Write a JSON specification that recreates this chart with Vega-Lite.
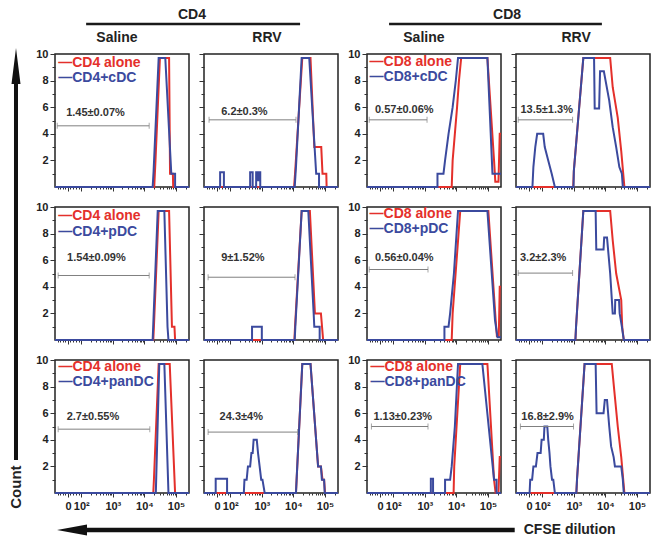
{
"$schema":"https://vega.github.io/schema/vega-lite/v6.json",
"padding":0,
"background":"white",
"config":{"font":"Liberation Sans","view":{"stroke":"#222","strokeWidth":1.5},"axis":{"grid":false,"domain":false,"tickColor":"#333","labelColor":"#222","labelFont":"Liberation Sans","labelFontWeight":"bold"}},
"datasets":{
"h11a":[{"x":1.17,"y":0},{"x":4.31,"y":0},{"x":4.35,"y":2},{"x":4.49,"y":9.7},{"x":4.78,"y":9.7},{"x":4.81,"y":1},{"x":4.90,"y":1},{"x":4.91,"y":0},{"x":5.41,"y":0}],
"h11b":[{"x":1.17,"y":0},{"x":4.26,"y":0},{"x":4.29,"y":1.2},{"x":4.45,"y":9.7},{"x":4.66,"y":9.7},{"x":4.85,"y":1},{"x":4.97,"y":1},{"x":4.97,"y":0},{"x":5.41,"y":0}],
"h12a":[{"x":1.17,"y":0},{"x":4.02,"y":0},{"x":4.05,"y":1},{"x":4.28,"y":9.7},{"x":4.54,"y":9.7},{"x":4.66,"y":3},{"x":4.88,"y":3},{"x":4.92,"y":1},{"x":5.04,"y":1},{"x":5.05,"y":0},{"x":5.41,"y":0}],
"h12b":[{"x":1.17,"y":0},{"x":1.68,"y":0},{"x":1.68,"y":1.1},{"x":1.80,"y":1.1},{"x":1.80,"y":0},{"x":2.63,"y":0},{"x":2.63,"y":1.1},{"x":2.71,"y":1.1},{"x":2.71,"y":0},{"x":2.82,"y":0},{"x":2.82,"y":1.1},{"x":2.87,"y":1.1},{"x":2.87,"y":0.5},{"x":2.89,"y":0.5},{"x":2.89,"y":1.1},{"x":2.95,"y":1.1},{"x":2.95,"y":0},{"x":4.04,"y":0},{"x":4.08,"y":1.5},{"x":4.26,"y":9.7},{"x":4.50,"y":9.7},{"x":4.72,"y":1},{"x":4.81,"y":1},{"x":4.81,"y":0},{"x":5.41,"y":0}],
"h13a":[{"x":1.17,"y":0},{"x":3.85,"y":0},{"x":3.88,"y":2},{"x":3.95,"y":4},{"x":4.02,"y":6},{"x":4.08,"y":8},{"x":4.15,"y":9.7},{"x":4.98,"y":9.7},{"x":5.19,"y":2},{"x":5.23,"y":0.4},{"x":5.33,"y":0.4},{"x":5.37,"y":4},{"x":5.41,"y":4}],
"h13b":[{"x":1.17,"y":0},{"x":3.40,"y":0},{"x":3.40,"y":1},{"x":3.59,"y":1},{"x":3.64,"y":2},{"x":3.75,"y":4},{"x":3.88,"y":6},{"x":3.98,"y":8},{"x":4.05,"y":9.7},{"x":4.98,"y":9.7},{"x":5.14,"y":1},{"x":5.41,"y":1}],
"h14a":[{"x":1.17,"y":0},{"x":2.98,"y":0},{"x":3.00,"y":1.2},{"x":3.30,"y":9.7},{"x":4.15,"y":9.7},{"x":4.23,"y":7.5},{"x":4.39,"y":5.2},{"x":4.50,"y":2.7},{"x":4.60,"y":0},{"x":5.41,"y":0}],
"h14b":[{"x":1.17,"y":0},{"x":1.69,"y":0},{"x":1.72,"y":1.5},{"x":1.78,"y":3},{"x":1.84,"y":4},{"x":2.03,"y":4},{"x":2.08,"y":3},{"x":2.19,"y":2},{"x":2.30,"y":1},{"x":2.40,"y":0},{"x":2.99,"y":0},{"x":3.00,"y":1.2},{"x":3.30,"y":9.7},{"x":3.64,"y":9.7},{"x":3.66,"y":5.9},{"x":3.80,"y":5.9},{"x":3.83,"y":8.7},{"x":3.95,"y":8.7},{"x":4.12,"y":6.5},{"x":4.23,"y":4.5},{"x":4.34,"y":3},{"x":4.44,"y":1.5},{"x":4.52,"y":1},{"x":4.55,"y":0},{"x":5.41,"y":0}],
"h21a":[{"x":1.17,"y":0},{"x":4.28,"y":0},{"x":4.30,"y":1},{"x":4.45,"y":9.7},{"x":4.78,"y":9.7},{"x":4.87,"y":1},{"x":4.95,"y":1},{"x":4.97,"y":0},{"x":5.41,"y":0}],
"h21b":[{"x":1.17,"y":0},{"x":4.26,"y":0},{"x":4.28,"y":1.2},{"x":4.42,"y":9.7},{"x":4.63,"y":9.7},{"x":4.73,"y":1},{"x":4.76,"y":0},{"x":5.41,"y":0}],
"h22a":[{"x":1.17,"y":0},{"x":4.03,"y":0},{"x":4.05,"y":1},{"x":4.26,"y":9.7},{"x":4.52,"y":9.7},{"x":4.68,"y":2},{"x":4.87,"y":2},{"x":4.94,"y":0},{"x":5.41,"y":0}],
"h22b":[{"x":1.17,"y":0},{"x":2.69,"y":0},{"x":2.69,"y":1},{"x":3.0,"y":1},{"x":3.0,"y":0},{"x":4.04,"y":0},{"x":4.06,"y":1},{"x":4.26,"y":9.7},{"x":4.47,"y":9.7},{"x":4.64,"y":2},{"x":4.66,"y":1},{"x":4.83,"y":1},{"x":4.83,"y":0},{"x":5.41,"y":0}],
"h23a":[{"x":1.17,"y":0},{"x":3.85,"y":0},{"x":3.88,"y":2},{"x":4.12,"y":9.7},{"x":5.01,"y":9.7},{"x":5.25,"y":1.2},{"x":5.28,"y":0.3},{"x":5.34,"y":0.3},{"x":5.37,"y":4},{"x":5.41,"y":4}],
"h23b":[{"x":1.17,"y":0},{"x":3.62,"y":0},{"x":3.62,"y":1},{"x":3.75,"y":1},{"x":3.80,"y":2},{"x":3.92,"y":5},{"x":4.05,"y":9.7},{"x":4.98,"y":9.7},{"x":5.22,"y":1.5},{"x":5.25,"y":1},{"x":5.30,"y":0.2},{"x":5.41,"y":0.2}],
"h24a":[{"x":1.17,"y":0},{"x":3.05,"y":0},{"x":3.07,"y":1},{"x":3.30,"y":9.7},{"x":4.15,"y":9.7},{"x":4.23,"y":7.5},{"x":4.34,"y":5},{"x":4.50,"y":3},{"x":4.53,"y":1},{"x":4.58,"y":0},{"x":5.41,"y":0}],
"h24b":[{"x":1.17,"y":0},{"x":3.05,"y":0},{"x":3.07,"y":1},{"x":3.30,"y":9.7},{"x":3.69,"y":9.7},{"x":3.71,"y":6.8},{"x":3.94,"y":6.8},{"x":3.96,"y":7.7},{"x":4.05,"y":7.7},{"x":4.15,"y":5},{"x":4.23,"y":2},{"x":4.30,"y":2},{"x":4.31,"y":3},{"x":4.43,"y":3},{"x":4.45,"y":2},{"x":4.52,"y":1},{"x":4.58,"y":0},{"x":5.41,"y":0}],
"h31a":[{"x":1.17,"y":0},{"x":4.28,"y":0},{"x":4.30,"y":1},{"x":4.45,"y":9.7},{"x":4.80,"y":9.7},{"x":4.97,"y":0},{"x":5.41,"y":0}],
"h31b":[{"x":1.17,"y":0},{"x":4.36,"y":0},{"x":4.47,"y":9.7},{"x":4.63,"y":9.7},{"x":4.76,"y":0},{"x":5.41,"y":0}],
"h32a":[{"x":1.17,"y":0},{"x":4.08,"y":0},{"x":4.10,"y":1},{"x":4.28,"y":9.7},{"x":4.54,"y":9.7},{"x":4.78,"y":2},{"x":4.87,"y":2},{"x":4.92,"y":1},{"x":4.97,"y":1},{"x":5.00,"y":0},{"x":5.41,"y":0}],
"h32b":[{"x":1.17,"y":0},{"x":1.54,"y":0},{"x":1.54,"y":1.07},{"x":1.90,"y":1.07},{"x":1.90,"y":0},{"x":2.43,"y":0},{"x":2.45,"y":1},{"x":2.52,"y":1},{"x":2.56,"y":2},{"x":2.63,"y":2},{"x":2.67,"y":3},{"x":2.71,"y":3},{"x":2.74,"y":4},{"x":2.84,"y":4},{"x":2.88,"y":3},{"x":2.93,"y":2},{"x":2.98,"y":1},{"x":3.02,"y":1},{"x":3.09,"y":0},{"x":4.08,"y":0},{"x":4.10,"y":1},{"x":4.28,"y":9.7},{"x":4.54,"y":9.7},{"x":4.78,"y":2},{"x":4.87,"y":2},{"x":4.90,"y":1},{"x":4.97,"y":1},{"x":4.99,"y":0},{"x":5.41,"y":0}],
"h33a":[{"x":1.17,"y":0},{"x":3.91,"y":0},{"x":3.93,"y":2},{"x":4.12,"y":9.7},{"x":4.98,"y":9.7},{"x":5.19,"y":1},{"x":5.24,"y":0},{"x":5.33,"y":0},{"x":5.37,"y":2.7},{"x":5.41,"y":2.7}],
"h33b":[{"x":1.17,"y":0},{"x":3.19,"y":0},{"x":3.19,"y":1.07},{"x":3.26,"y":1.07},{"x":3.26,"y":0},{"x":3.64,"y":0},{"x":3.64,"y":1},{"x":3.80,"y":1},{"x":3.85,"y":2},{"x":3.95,"y":5},{"x":4.05,"y":9.7},{"x":4.82,"y":9.7},{"x":5.19,"y":1},{"x":5.27,"y":1},{"x":5.27,"y":0},{"x":5.41,"y":0}],
"h34a":[{"x":1.17,"y":0},{"x":3.08,"y":0},{"x":3.10,"y":1},{"x":3.34,"y":9.7},{"x":4.20,"y":9.7},{"x":4.28,"y":7.7},{"x":4.39,"y":5},{"x":4.50,"y":2.7},{"x":4.60,"y":0},{"x":5.41,"y":0}],
"h34b":[{"x":1.17,"y":0},{"x":1.60,"y":0},{"x":1.62,"y":1},{"x":1.68,"y":1},{"x":1.72,"y":2},{"x":1.80,"y":2},{"x":1.85,"y":3},{"x":1.95,"y":3},{"x":1.98,"y":4},{"x":2.05,"y":4},{"x":2.07,"y":5},{"x":2.16,"y":5},{"x":2.19,"y":4},{"x":2.23,"y":3},{"x":2.26,"y":2},{"x":2.31,"y":1},{"x":2.35,"y":1},{"x":2.40,"y":0},{"x":3.08,"y":0},{"x":3.10,"y":1},{"x":3.34,"y":9.7},{"x":3.69,"y":9.7},{"x":3.72,"y":6},{"x":3.94,"y":6},{"x":3.98,"y":7},{"x":4.05,"y":7},{"x":4.12,"y":5},{"x":4.18,"y":3.5},{"x":4.26,"y":2.7},{"x":4.30,"y":2},{"x":4.50,"y":2},{"x":4.55,"y":1},{"x":4.58,"y":0},{"x":5.41,"y":0}],
"gate":[{"panel":"11","x":1.24,"x2":4.15,"y":4.6},{"panel":"12","x":1.33,"x2":4.08,"y":5.05},{"panel":"13","x":1.24,"x2":3.07,"y":5.05},{"panel":"14","x":1.24,"x2":2.96,"y":5.05},{"panel":"21","x":1.27,"x2":4.15,"y":4.85},{"panel":"22","x":1.30,"x2":4.05,"y":4.72},{"panel":"23","x":1.24,"x2":3.10,"y":5.3},{"panel":"24","x":1.24,"x2":2.96,"y":5.03},{"panel":"31","x":1.27,"x2":4.17,"y":4.8},{"panel":"32","x":1.30,"x2":4.13,"y":4.58},{"panel":"33","x":1.31,"x2":3.10,"y":5.0},{"panel":"34","x":1.31,"x2":2.99,"y":5.0}],
"cap":[{"panel":"11","x":1.24,"y":4.6},{"panel":"11","x":4.15,"y":4.6},{"panel":"12","x":1.33,"y":5.05},{"panel":"12","x":4.08,"y":5.05},{"panel":"13","x":1.24,"y":5.05},{"panel":"13","x":3.07,"y":5.05},{"panel":"14","x":1.24,"y":5.05},{"panel":"14","x":2.96,"y":5.05},{"panel":"21","x":1.27,"y":4.85},{"panel":"21","x":4.15,"y":4.85},{"panel":"22","x":1.30,"y":4.72},{"panel":"22","x":4.05,"y":4.72},{"panel":"23","x":1.24,"y":5.3},{"panel":"23","x":3.10,"y":5.3},{"panel":"24","x":1.24,"y":5.03},{"panel":"24","x":2.96,"y":5.03},{"panel":"31","x":1.27,"y":4.8},{"panel":"31","x":4.17,"y":4.8},{"panel":"32","x":1.30,"y":4.58},{"panel":"32","x":4.13,"y":4.58},{"panel":"33","x":1.31,"y":5.0},{"panel":"33","x":3.10,"y":5.0},{"panel":"34","x":1.31,"y":5.0},{"panel":"34","x":2.99,"y":5.0}],
"glab":[{"panel":"11","x":2.45,"y":5.53,"label":"1.45±0.07%"},{"panel":"12","x":2.45,"y":5.65,"label":"6.2±0.3%"},{"panel":"13","x":2.35,"y":5.78,"label":"0.57±0.06%"},{"panel":"14","x":2.14,"y":5.78,"label":"13.5±1.3%"},{"panel":"21","x":2.48,"y":6.16,"label":"1.54±0.09%"},{"panel":"22","x":2.40,"y":6.16,"label":"9±1.52%"},{"panel":"23","x":2.35,"y":6.16,"label":"0.56±0.04%"},{"panel":"24","x":2.03,"y":6.16,"label":"3.2±2.3%"},{"panel":"31","x":2.37,"y":5.7,"label":"2.7±0.55%"},{"panel":"32","x":2.35,"y":5.7,"label":"24.3±4%"},{"panel":"33","x":2.30,"y":5.7,"label":"1.13±0.23%"},{"panel":"34","x":2.17,"y":5.7,"label":"16.8±2.9%"}],
"leg":[{"panel":"11","series":"alone","x":1.27,"y":9.35,"label":"—CD4 alone"},{"panel":"11","series":"DC","x":1.27,"y":8.2,"label":"—CD4+cDC"},{"panel":"13","series":"alone","x":1.25,"y":9.42,"label":"—CD8 alone"},{"panel":"13","series":"DC","x":1.25,"y":8.27,"label":"—CD8+cDC"},{"panel":"21","series":"alone","x":1.27,"y":9.3,"label":"—CD4 alone"},{"panel":"21","series":"DC","x":1.27,"y":8.12,"label":"—CD4+pDC"},{"panel":"23","series":"alone","x":1.25,"y":9.5,"label":"—CD8 alone"},{"panel":"23","series":"DC","x":1.25,"y":8.35,"label":"—CD8+pDC"},{"panel":"31","series":"alone","x":1.28,"y":9.5,"label":"—CD4 alone"},{"panel":"31","series":"DC","x":1.28,"y":8.35,"label":"—CD4+panDC"},{"panel":"33","series":"alone","x":1.28,"y":9.5,"label":"—CD8 alone"},{"panel":"33","series":"DC","x":1.28,"y":8.35,"label":"—CD8+panDC"}]
},
"vconcat":[
{"hconcat":[
 {"width":31,"height":492,"view":{"stroke":null},"data":{"values":[{}]},"layer":[
  {"mark":{"type":"rule","strokeWidth":4,"color":"#111"},"encoding":{"x":{"datum":0.516,"type":"quantitative","scale":{"domain":[0,1]},"axis":null},"y":{"datum":0.837,"type":"quantitative","scale":{"domain":[0,1]},"axis":null},"y2":{"datum":0.065}}},
  {"mark":{"type":"point","shape":"M0,-1L0.25,1L-0.25,1Z","size":1296,"filled":true,"color":"#111","opacity":1},"encoding":{"x":{"datum":0.516,"type":"quantitative","scale":{"domain":[0,1]},"axis":null},"y":{"datum":0.866,"type":"quantitative","scale":{"domain":[0,1]},"axis":null}}},
  {"mark":{"type":"text","text":"Count","angle":270,"fontSize":15,"fontWeight":"bold","color":"#222"},"encoding":{"x":{"datum":0.516,"type":"quantitative","scale":{"domain":[0,1]},"axis":null},"y":{"datum":0.01,"type":"quantitative","scale":{"domain":[0,1]},"axis":null}}}
 ]},
 {"vconcat":[
  {"width":283,"height":46,"view":{"stroke":null},"data":{"values":[{}]},"layer":[
   {"mark":{"type":"rule","strokeWidth":2.5,"color":"#1a1a1a"},"encoding":{"x":{"datum":0.11,"type":"quantitative","scale":{"domain":[0,1]},"axis":null},"x2":{"datum":0.866},"y":{"datum":0.478,"type":"quantitative","scale":{"domain":[0,1]},"axis":null}}},
   {"mark":{"type":"text","text":"CD4","fontSize":14,"fontWeight":"bold","color":"#222"},"encoding":{"x":{"datum":0.484,"type":"quantitative","scale":{"domain":[0,1]},"axis":null},"y":{"datum":0.674,"type":"quantitative","scale":{"domain":[0,1]},"axis":null}}},
   {"mark":{"type":"text","text":"Saline","fontSize":14,"fontWeight":"bold","color":"#222"},"encoding":{"x":{"datum":0.219,"type":"quantitative","scale":{"domain":[0,1]},"axis":null},"y":{"datum":0.174,"type":"quantitative","scale":{"domain":[0,1]},"axis":null}}},
   {"mark":{"type":"text","text":"RRV","fontSize":14,"fontWeight":"bold","color":"#222"},"encoding":{"x":{"datum":0.749,"type":"quantitative","scale":{"domain":[0,1]},"axis":null},"y":{"datum":0.174,"type":"quantitative","scale":{"domain":[0,1]},"axis":null}}}
  ]},
  {"vconcat":[
  {"hconcat":[
   {"width":134,"height":133,"encoding":{"x":{"field":"x","type":"quantitative","scale":{"domain":[1.17,5.41]},"axis":{"title":null,"values":[1.25,1.33,1.42,1.5,1.58,1.66,1.75,1.84,1.92,2,2.301,2.477,2.602,2.699,2.778,2.845,2.903,2.954,3,3.301,3.477,3.602,3.699,3.778,3.845,3.903,3.954,4,4.301,4.477,4.602,4.699,4.778,4.845,4.903,4.954,5,5.301],"labels":false,"tickSize":{"condition":{"test":"indexof([1.58,2,3,4,5],datum.value)>=0","value":4},"value":2}}},"y":{"field":"y","type":"quantitative","scale":{"domain":[0,10]},"axis":{"title":null,"values":[1,2,3,4,5,6,7,8,9,10],"labelExpr":"datum.value%2==0?datum.label:''","labelFontSize":11,"labelPadding":2,"labelOverlap":false,"tickSize":{"condition":{"test":"datum.value%2==0","value":5},"value":3}}}},
    "layer":[
     {"data":{"name":"h11a"},"mark":{"type":"line","color":"#e4302b","strokeWidth":2}},
     {"data":{"name":"h11b"},"mark":{"type":"line","color":"#3b4a9e","strokeWidth":2}},
     {"data":{"name":"gate"},"transform":[{"filter":"datum.panel=='11'"}],"mark":{"type":"rule","color":"#808080","strokeWidth":1},"encoding":{"x2":{"field":"x2"}}},
     {"data":{"name":"cap"},"transform":[{"filter":"datum.panel=='11'"}],"mark":{"type":"tick","orient":"vertical","size":6,"thickness":1,"color":"#808080"}},
     {"data":{"name":"glab"},"transform":[{"filter":"datum.panel=='11'"}],"mark":{"type":"text","fontSize":11,"fontWeight":"bold","color":"#333"},"encoding":{"text":{"field":"label"}}},
     {"data":{"name":"leg"},"transform":[{"filter":"datum.panel=='11'"}],"mark":{"type":"text","align":"left","fontSize":14,"fontWeight":"bold"},"encoding":{"text":{"field":"label"},"color":{"field":"series","type":"nominal","scale":{"domain":["alone","DC"],"range":["#e4302b","#3b4a9e"]},"legend":null}}}
    ]},
   {"width":134,"height":133,"encoding":{"x":{"field":"x","type":"quantitative","scale":{"domain":[1.17,5.41]},"axis":{"title":null,"values":[1.25,1.33,1.42,1.5,1.58,1.66,1.75,1.84,1.92,2,2.301,2.477,2.602,2.699,2.778,2.845,2.903,2.954,3,3.301,3.477,3.602,3.699,3.778,3.845,3.903,3.954,4,4.301,4.477,4.602,4.699,4.778,4.845,4.903,4.954,5,5.301],"labels":false,"tickSize":{"condition":{"test":"indexof([1.58,2,3,4,5],datum.value)>=0","value":4},"value":2}}},"y":{"field":"y","type":"quantitative","scale":{"domain":[0,10]},"axis":{"title":null,"values":[1,2,3,4,5,6,7,8,9,10],"labels":false,"tickSize":{"condition":{"test":"datum.value%2==0","value":5},"value":3}}}},
    "layer":[
     {"data":{"name":"h12a"},"mark":{"type":"line","color":"#e4302b","strokeWidth":2}},
     {"data":{"name":"h12b"},"mark":{"type":"line","color":"#3b4a9e","strokeWidth":2}},
     {"data":{"name":"gate"},"transform":[{"filter":"datum.panel=='12'"}],"mark":{"type":"rule","color":"#808080","strokeWidth":1},"encoding":{"x2":{"field":"x2"}}},
     {"data":{"name":"cap"},"transform":[{"filter":"datum.panel=='12'"}],"mark":{"type":"tick","orient":"vertical","size":6,"thickness":1,"color":"#808080"}},
     {"data":{"name":"glab"},"transform":[{"filter":"datum.panel=='12'"}],"mark":{"type":"text","fontSize":11,"fontWeight":"bold","color":"#333"},"encoding":{"text":{"field":"label"}}}
    ]}
  ],"spacing":15,"bounds":"flush"},
  {"hconcat":[
   {"width":134,"height":133,"encoding":{"x":{"field":"x","type":"quantitative","scale":{"domain":[1.17,5.41]},"axis":{"title":null,"values":[1.25,1.33,1.42,1.5,1.58,1.66,1.75,1.84,1.92,2,2.301,2.477,2.602,2.699,2.778,2.845,2.903,2.954,3,3.301,3.477,3.602,3.699,3.778,3.845,3.903,3.954,4,4.301,4.477,4.602,4.699,4.778,4.845,4.903,4.954,5,5.301],"labels":false,"tickSize":{"condition":{"test":"indexof([1.58,2,3,4,5],datum.value)>=0","value":4},"value":2}}},"y":{"field":"y","type":"quantitative","scale":{"domain":[0,10]},"axis":{"title":null,"values":[1,2,3,4,5,6,7,8,9,10],"labelExpr":"datum.value%2==0?datum.label:''","labelFontSize":11,"labelPadding":2,"labelOverlap":false,"tickSize":{"condition":{"test":"datum.value%2==0","value":5},"value":3}}}},
    "layer":[
     {"data":{"name":"h21a"},"mark":{"type":"line","color":"#e4302b","strokeWidth":2}},
     {"data":{"name":"h21b"},"mark":{"type":"line","color":"#3b4a9e","strokeWidth":2}},
     {"data":{"name":"gate"},"transform":[{"filter":"datum.panel=='21'"}],"mark":{"type":"rule","color":"#808080","strokeWidth":1},"encoding":{"x2":{"field":"x2"}}},
     {"data":{"name":"cap"},"transform":[{"filter":"datum.panel=='21'"}],"mark":{"type":"tick","orient":"vertical","size":6,"thickness":1,"color":"#808080"}},
     {"data":{"name":"glab"},"transform":[{"filter":"datum.panel=='21'"}],"mark":{"type":"text","fontSize":11,"fontWeight":"bold","color":"#333"},"encoding":{"text":{"field":"label"}}},
     {"data":{"name":"leg"},"transform":[{"filter":"datum.panel=='21'"}],"mark":{"type":"text","align":"left","fontSize":14,"fontWeight":"bold"},"encoding":{"text":{"field":"label"},"color":{"field":"series","type":"nominal","scale":{"domain":["alone","DC"],"range":["#e4302b","#3b4a9e"]},"legend":null}}}
    ]},
   {"width":134,"height":133,"encoding":{"x":{"field":"x","type":"quantitative","scale":{"domain":[1.17,5.41]},"axis":{"title":null,"values":[1.25,1.33,1.42,1.5,1.58,1.66,1.75,1.84,1.92,2,2.301,2.477,2.602,2.699,2.778,2.845,2.903,2.954,3,3.301,3.477,3.602,3.699,3.778,3.845,3.903,3.954,4,4.301,4.477,4.602,4.699,4.778,4.845,4.903,4.954,5,5.301],"labels":false,"tickSize":{"condition":{"test":"indexof([1.58,2,3,4,5],datum.value)>=0","value":4},"value":2}}},"y":{"field":"y","type":"quantitative","scale":{"domain":[0,10]},"axis":{"title":null,"values":[1,2,3,4,5,6,7,8,9,10],"labels":false,"tickSize":{"condition":{"test":"datum.value%2==0","value":5},"value":3}}}},
    "layer":[
     {"data":{"name":"h22a"},"mark":{"type":"line","color":"#e4302b","strokeWidth":2}},
     {"data":{"name":"h22b"},"mark":{"type":"line","color":"#3b4a9e","strokeWidth":2}},
     {"data":{"name":"gate"},"transform":[{"filter":"datum.panel=='22'"}],"mark":{"type":"rule","color":"#808080","strokeWidth":1},"encoding":{"x2":{"field":"x2"}}},
     {"data":{"name":"cap"},"transform":[{"filter":"datum.panel=='22'"}],"mark":{"type":"tick","orient":"vertical","size":6,"thickness":1,"color":"#808080"}},
     {"data":{"name":"glab"},"transform":[{"filter":"datum.panel=='22'"}],"mark":{"type":"text","fontSize":11,"fontWeight":"bold","color":"#333"},"encoding":{"text":{"field":"label"}}}
    ]}
  ],"spacing":15,"bounds":"flush"},
  {"hconcat":[
   {"width":134,"height":133,"encoding":{"x":{"field":"x","type":"quantitative","scale":{"domain":[1.17,5.41]},"axis":{"title":null,"values":[1.25,1.33,1.42,1.5,1.58,1.66,1.75,1.84,1.92,2,2.301,2.477,2.602,2.699,2.778,2.845,2.903,2.954,3,3.301,3.477,3.602,3.699,3.778,3.845,3.903,3.954,4,4.301,4.477,4.602,4.699,4.778,4.845,4.903,4.954,5,5.301],"labelExpr":"datum.value==1.58?'0':datum.value==2?'10²':datum.value==3?'10³':datum.value==4?'10⁴':datum.value==5?'10⁵':''","labelFontSize":11,"labelPadding":3,"labelOverlap":false,"labelFlush":false,"tickSize":{"condition":{"test":"indexof([1.58,2,3,4,5],datum.value)>=0","value":4},"value":2}}},"y":{"field":"y","type":"quantitative","scale":{"domain":[0,10]},"axis":{"title":null,"values":[1,2,3,4,5,6,7,8,9,10],"labelExpr":"datum.value%2==0?datum.label:''","labelFontSize":11,"labelPadding":2,"labelOverlap":false,"tickSize":{"condition":{"test":"datum.value%2==0","value":5},"value":3}}}},
    "layer":[
     {"data":{"name":"h31a"},"mark":{"type":"line","color":"#e4302b","strokeWidth":2}},
     {"data":{"name":"h31b"},"mark":{"type":"line","color":"#3b4a9e","strokeWidth":2}},
     {"data":{"name":"gate"},"transform":[{"filter":"datum.panel=='31'"}],"mark":{"type":"rule","color":"#808080","strokeWidth":1},"encoding":{"x2":{"field":"x2"}}},
     {"data":{"name":"cap"},"transform":[{"filter":"datum.panel=='31'"}],"mark":{"type":"tick","orient":"vertical","size":6,"thickness":1,"color":"#808080"}},
     {"data":{"name":"glab"},"transform":[{"filter":"datum.panel=='31'"}],"mark":{"type":"text","fontSize":11,"fontWeight":"bold","color":"#333"},"encoding":{"text":{"field":"label"}}},
     {"data":{"name":"leg"},"transform":[{"filter":"datum.panel=='31'"}],"mark":{"type":"text","align":"left","fontSize":14,"fontWeight":"bold"},"encoding":{"text":{"field":"label"},"color":{"field":"series","type":"nominal","scale":{"domain":["alone","DC"],"range":["#e4302b","#3b4a9e"]},"legend":null}}}
    ]},
   {"width":134,"height":133,"encoding":{"x":{"field":"x","type":"quantitative","scale":{"domain":[1.17,5.41]},"axis":{"title":null,"values":[1.25,1.33,1.42,1.5,1.58,1.66,1.75,1.84,1.92,2,2.301,2.477,2.602,2.699,2.778,2.845,2.903,2.954,3,3.301,3.477,3.602,3.699,3.778,3.845,3.903,3.954,4,4.301,4.477,4.602,4.699,4.778,4.845,4.903,4.954,5,5.301],"labelExpr":"datum.value==1.58?'0':datum.value==2?'10²':datum.value==3?'10³':datum.value==4?'10⁴':datum.value==5?'10⁵':''","labelFontSize":11,"labelPadding":3,"labelOverlap":false,"labelFlush":false,"tickSize":{"condition":{"test":"indexof([1.58,2,3,4,5],datum.value)>=0","value":4},"value":2}}},"y":{"field":"y","type":"quantitative","scale":{"domain":[0,10]},"axis":{"title":null,"values":[1,2,3,4,5,6,7,8,9,10],"labels":false,"tickSize":{"condition":{"test":"datum.value%2==0","value":5},"value":3}}}},
    "layer":[
     {"data":{"name":"h32a"},"mark":{"type":"line","color":"#e4302b","strokeWidth":2}},
     {"data":{"name":"h32b"},"mark":{"type":"line","color":"#3b4a9e","strokeWidth":2}},
     {"data":{"name":"gate"},"transform":[{"filter":"datum.panel=='32'"}],"mark":{"type":"rule","color":"#808080","strokeWidth":1},"encoding":{"x2":{"field":"x2"}}},
     {"data":{"name":"cap"},"transform":[{"filter":"datum.panel=='32'"}],"mark":{"type":"tick","orient":"vertical","size":6,"thickness":1,"color":"#808080"}},
     {"data":{"name":"glab"},"transform":[{"filter":"datum.panel=='32'"}],"mark":{"type":"text","fontSize":11,"fontWeight":"bold","color":"#333"},"encoding":{"text":{"field":"label"}}}
    ]}
  ],"spacing":15,"bounds":"flush"}
  ],"spacing":7}
 ],"spacing":1},
 {"vconcat":[
  {"width":283,"height":46,"view":{"stroke":null},"data":{"values":[{}]},"layer":[
   {"mark":{"type":"rule","strokeWidth":2.5,"color":"#1a1a1a"},"encoding":{"x":{"datum":0.078,"type":"quantitative","scale":{"domain":[0,1]},"axis":null},"x2":{"datum":0.830},"y":{"datum":0.478,"type":"quantitative","scale":{"domain":[0,1]},"axis":null}}},
   {"mark":{"type":"text","text":"CD8","fontSize":14,"fontWeight":"bold","color":"#222"},"encoding":{"x":{"datum":0.495,"type":"quantitative","scale":{"domain":[0,1]},"axis":null},"y":{"datum":0.674,"type":"quantitative","scale":{"domain":[0,1]},"axis":null}}},
   {"mark":{"type":"text","text":"Saline","fontSize":14,"fontWeight":"bold","color":"#222"},"encoding":{"x":{"datum":0.201,"type":"quantitative","scale":{"domain":[0,1]},"axis":null},"y":{"datum":0.174,"type":"quantitative","scale":{"domain":[0,1]},"axis":null}}},
   {"mark":{"type":"text","text":"RRV","fontSize":14,"fontWeight":"bold","color":"#222"},"encoding":{"x":{"datum":0.739,"type":"quantitative","scale":{"domain":[0,1]},"axis":null},"y":{"datum":0.174,"type":"quantitative","scale":{"domain":[0,1]},"axis":null}}}
  ]},
  {"vconcat":[
  {"hconcat":[
   {"width":134,"height":133,"encoding":{"x":{"field":"x","type":"quantitative","scale":{"domain":[1.17,5.41]},"axis":{"title":null,"values":[1.25,1.33,1.42,1.5,1.58,1.66,1.75,1.84,1.92,2,2.301,2.477,2.602,2.699,2.778,2.845,2.903,2.954,3,3.301,3.477,3.602,3.699,3.778,3.845,3.903,3.954,4,4.301,4.477,4.602,4.699,4.778,4.845,4.903,4.954,5,5.301],"labels":false,"tickSize":{"condition":{"test":"indexof([1.58,2,3,4,5],datum.value)>=0","value":4},"value":2}}},"y":{"field":"y","type":"quantitative","scale":{"domain":[0,10]},"axis":{"title":null,"values":[1,2,3,4,5,6,7,8,9,10],"labelExpr":"datum.value%2==0?datum.label:''","labelFontSize":11,"labelPadding":2,"labelOverlap":false,"tickSize":{"condition":{"test":"datum.value%2==0","value":5},"value":3}}}},
    "layer":[
     {"data":{"name":"h13a"},"mark":{"type":"line","color":"#e4302b","strokeWidth":2}},
     {"data":{"name":"h13b"},"mark":{"type":"line","color":"#3b4a9e","strokeWidth":2}},
     {"data":{"name":"gate"},"transform":[{"filter":"datum.panel=='13'"}],"mark":{"type":"rule","color":"#808080","strokeWidth":1},"encoding":{"x2":{"field":"x2"}}},
     {"data":{"name":"cap"},"transform":[{"filter":"datum.panel=='13'"}],"mark":{"type":"tick","orient":"vertical","size":6,"thickness":1,"color":"#808080"}},
     {"data":{"name":"glab"},"transform":[{"filter":"datum.panel=='13'"}],"mark":{"type":"text","fontSize":11,"fontWeight":"bold","color":"#333"},"encoding":{"text":{"field":"label"}}},
     {"data":{"name":"leg"},"transform":[{"filter":"datum.panel=='13'"}],"mark":{"type":"text","align":"left","fontSize":14,"fontWeight":"bold"},"encoding":{"text":{"field":"label"},"color":{"field":"series","type":"nominal","scale":{"domain":["alone","DC"],"range":["#e4302b","#3b4a9e"]},"legend":null}}}
    ]},
   {"width":134,"height":133,"encoding":{"x":{"field":"x","type":"quantitative","scale":{"domain":[1.17,5.41]},"axis":{"title":null,"values":[1.25,1.33,1.42,1.5,1.58,1.66,1.75,1.84,1.92,2,2.301,2.477,2.602,2.699,2.778,2.845,2.903,2.954,3,3.301,3.477,3.602,3.699,3.778,3.845,3.903,3.954,4,4.301,4.477,4.602,4.699,4.778,4.845,4.903,4.954,5,5.301],"labels":false,"tickSize":{"condition":{"test":"indexof([1.58,2,3,4,5],datum.value)>=0","value":4},"value":2}}},"y":{"field":"y","type":"quantitative","scale":{"domain":[0,10]},"axis":{"title":null,"values":[1,2,3,4,5,6,7,8,9,10],"labels":false,"tickSize":{"condition":{"test":"datum.value%2==0","value":5},"value":3}}}},
    "layer":[
     {"data":{"name":"h14a"},"mark":{"type":"line","color":"#e4302b","strokeWidth":2}},
     {"data":{"name":"h14b"},"mark":{"type":"line","color":"#3b4a9e","strokeWidth":2}},
     {"data":{"name":"gate"},"transform":[{"filter":"datum.panel=='14'"}],"mark":{"type":"rule","color":"#808080","strokeWidth":1},"encoding":{"x2":{"field":"x2"}}},
     {"data":{"name":"cap"},"transform":[{"filter":"datum.panel=='14'"}],"mark":{"type":"tick","orient":"vertical","size":6,"thickness":1,"color":"#808080"}},
     {"data":{"name":"glab"},"transform":[{"filter":"datum.panel=='14'"}],"mark":{"type":"text","fontSize":11,"fontWeight":"bold","color":"#333"},"encoding":{"text":{"field":"label"}}}
    ]}
  ],"spacing":15,"bounds":"flush"},
  {"hconcat":[
   {"width":134,"height":133,"encoding":{"x":{"field":"x","type":"quantitative","scale":{"domain":[1.17,5.41]},"axis":{"title":null,"values":[1.25,1.33,1.42,1.5,1.58,1.66,1.75,1.84,1.92,2,2.301,2.477,2.602,2.699,2.778,2.845,2.903,2.954,3,3.301,3.477,3.602,3.699,3.778,3.845,3.903,3.954,4,4.301,4.477,4.602,4.699,4.778,4.845,4.903,4.954,5,5.301],"labels":false,"tickSize":{"condition":{"test":"indexof([1.58,2,3,4,5],datum.value)>=0","value":4},"value":2}}},"y":{"field":"y","type":"quantitative","scale":{"domain":[0,10]},"axis":{"title":null,"values":[1,2,3,4,5,6,7,8,9,10],"labelExpr":"datum.value%2==0?datum.label:''","labelFontSize":11,"labelPadding":2,"labelOverlap":false,"tickSize":{"condition":{"test":"datum.value%2==0","value":5},"value":3}}}},
    "layer":[
     {"data":{"name":"h23a"},"mark":{"type":"line","color":"#e4302b","strokeWidth":2}},
     {"data":{"name":"h23b"},"mark":{"type":"line","color":"#3b4a9e","strokeWidth":2}},
     {"data":{"name":"gate"},"transform":[{"filter":"datum.panel=='23'"}],"mark":{"type":"rule","color":"#808080","strokeWidth":1},"encoding":{"x2":{"field":"x2"}}},
     {"data":{"name":"cap"},"transform":[{"filter":"datum.panel=='23'"}],"mark":{"type":"tick","orient":"vertical","size":6,"thickness":1,"color":"#808080"}},
     {"data":{"name":"glab"},"transform":[{"filter":"datum.panel=='23'"}],"mark":{"type":"text","fontSize":11,"fontWeight":"bold","color":"#333"},"encoding":{"text":{"field":"label"}}},
     {"data":{"name":"leg"},"transform":[{"filter":"datum.panel=='23'"}],"mark":{"type":"text","align":"left","fontSize":14,"fontWeight":"bold"},"encoding":{"text":{"field":"label"},"color":{"field":"series","type":"nominal","scale":{"domain":["alone","DC"],"range":["#e4302b","#3b4a9e"]},"legend":null}}}
    ]},
   {"width":134,"height":133,"encoding":{"x":{"field":"x","type":"quantitative","scale":{"domain":[1.17,5.41]},"axis":{"title":null,"values":[1.25,1.33,1.42,1.5,1.58,1.66,1.75,1.84,1.92,2,2.301,2.477,2.602,2.699,2.778,2.845,2.903,2.954,3,3.301,3.477,3.602,3.699,3.778,3.845,3.903,3.954,4,4.301,4.477,4.602,4.699,4.778,4.845,4.903,4.954,5,5.301],"labels":false,"tickSize":{"condition":{"test":"indexof([1.58,2,3,4,5],datum.value)>=0","value":4},"value":2}}},"y":{"field":"y","type":"quantitative","scale":{"domain":[0,10]},"axis":{"title":null,"values":[1,2,3,4,5,6,7,8,9,10],"labels":false,"tickSize":{"condition":{"test":"datum.value%2==0","value":5},"value":3}}}},
    "layer":[
     {"data":{"name":"h24a"},"mark":{"type":"line","color":"#e4302b","strokeWidth":2}},
     {"data":{"name":"h24b"},"mark":{"type":"line","color":"#3b4a9e","strokeWidth":2}},
     {"data":{"name":"gate"},"transform":[{"filter":"datum.panel=='24'"}],"mark":{"type":"rule","color":"#808080","strokeWidth":1},"encoding":{"x2":{"field":"x2"}}},
     {"data":{"name":"cap"},"transform":[{"filter":"datum.panel=='24'"}],"mark":{"type":"tick","orient":"vertical","size":6,"thickness":1,"color":"#808080"}},
     {"data":{"name":"glab"},"transform":[{"filter":"datum.panel=='24'"}],"mark":{"type":"text","fontSize":11,"fontWeight":"bold","color":"#333"},"encoding":{"text":{"field":"label"}}}
    ]}
  ],"spacing":15,"bounds":"flush"},
  {"hconcat":[
   {"width":134,"height":133,"encoding":{"x":{"field":"x","type":"quantitative","scale":{"domain":[1.17,5.41]},"axis":{"title":null,"values":[1.25,1.33,1.42,1.5,1.58,1.66,1.75,1.84,1.92,2,2.301,2.477,2.602,2.699,2.778,2.845,2.903,2.954,3,3.301,3.477,3.602,3.699,3.778,3.845,3.903,3.954,4,4.301,4.477,4.602,4.699,4.778,4.845,4.903,4.954,5,5.301],"labelExpr":"datum.value==1.58?'0':datum.value==2?'10²':datum.value==3?'10³':datum.value==4?'10⁴':datum.value==5?'10⁵':''","labelFontSize":11,"labelPadding":3,"labelOverlap":false,"labelFlush":false,"tickSize":{"condition":{"test":"indexof([1.58,2,3,4,5],datum.value)>=0","value":4},"value":2}}},"y":{"field":"y","type":"quantitative","scale":{"domain":[0,10]},"axis":{"title":null,"values":[1,2,3,4,5,6,7,8,9,10],"labelExpr":"datum.value%2==0?datum.label:''","labelFontSize":11,"labelPadding":2,"labelOverlap":false,"tickSize":{"condition":{"test":"datum.value%2==0","value":5},"value":3}}}},
    "layer":[
     {"data":{"name":"h33a"},"mark":{"type":"line","color":"#e4302b","strokeWidth":2}},
     {"data":{"name":"h33b"},"mark":{"type":"line","color":"#3b4a9e","strokeWidth":2}},
     {"data":{"name":"gate"},"transform":[{"filter":"datum.panel=='33'"}],"mark":{"type":"rule","color":"#808080","strokeWidth":1},"encoding":{"x2":{"field":"x2"}}},
     {"data":{"name":"cap"},"transform":[{"filter":"datum.panel=='33'"}],"mark":{"type":"tick","orient":"vertical","size":6,"thickness":1,"color":"#808080"}},
     {"data":{"name":"glab"},"transform":[{"filter":"datum.panel=='33'"}],"mark":{"type":"text","fontSize":11,"fontWeight":"bold","color":"#333"},"encoding":{"text":{"field":"label"}}},
     {"data":{"name":"leg"},"transform":[{"filter":"datum.panel=='33'"}],"mark":{"type":"text","align":"left","fontSize":14,"fontWeight":"bold"},"encoding":{"text":{"field":"label"},"color":{"field":"series","type":"nominal","scale":{"domain":["alone","DC"],"range":["#e4302b","#3b4a9e"]},"legend":null}}}
    ]},
   {"width":134,"height":133,"encoding":{"x":{"field":"x","type":"quantitative","scale":{"domain":[1.17,5.41]},"axis":{"title":null,"values":[1.25,1.33,1.42,1.5,1.58,1.66,1.75,1.84,1.92,2,2.301,2.477,2.602,2.699,2.778,2.845,2.903,2.954,3,3.301,3.477,3.602,3.699,3.778,3.845,3.903,3.954,4,4.301,4.477,4.602,4.699,4.778,4.845,4.903,4.954,5,5.301],"labelExpr":"datum.value==1.58?'0':datum.value==2?'10²':datum.value==3?'10³':datum.value==4?'10⁴':datum.value==5?'10⁵':''","labelFontSize":11,"labelPadding":3,"labelOverlap":false,"labelFlush":false,"tickSize":{"condition":{"test":"indexof([1.58,2,3,4,5],datum.value)>=0","value":4},"value":2}}},"y":{"field":"y","type":"quantitative","scale":{"domain":[0,10]},"axis":{"title":null,"values":[1,2,3,4,5,6,7,8,9,10],"labels":false,"tickSize":{"condition":{"test":"datum.value%2==0","value":5},"value":3}}}},
    "layer":[
     {"data":{"name":"h34a"},"mark":{"type":"line","color":"#e4302b","strokeWidth":2}},
     {"data":{"name":"h34b"},"mark":{"type":"line","color":"#3b4a9e","strokeWidth":2}},
     {"data":{"name":"gate"},"transform":[{"filter":"datum.panel=='34'"}],"mark":{"type":"rule","color":"#808080","strokeWidth":1},"encoding":{"x2":{"field":"x2"}}},
     {"data":{"name":"cap"},"transform":[{"filter":"datum.panel=='34'"}],"mark":{"type":"tick","orient":"vertical","size":6,"thickness":1,"color":"#808080"}},
     {"data":{"name":"glab"},"transform":[{"filter":"datum.panel=='34'"}],"mark":{"type":"text","fontSize":11,"fontWeight":"bold","color":"#333"},"encoding":{"text":{"field":"label"}}}
    ]}
  ],"spacing":15,"bounds":"flush"}
  ],"spacing":7}
 ],"spacing":1}
],"spacing":4},
{"width":645,"height":20,"view":{"stroke":null},"data":{"values":[{}]},"layer":[
 {"mark":{"type":"rule","strokeWidth":4.5,"color":"#111"},"encoding":{"x":{"datum":0.124,"type":"quantitative","scale":{"domain":[0,1]},"axis":null},"x2":{"datum":0.798},"y":{"datum":0.5,"type":"quantitative","scale":{"domain":[0,1]},"axis":null}}},
 {"mark":{"type":"point","shape":"M-1,0L1,-0.37L1,0.37Z","size":900,"filled":true,"color":"#111","opacity":1},"encoding":{"x":{"datum":0.1116,"type":"quantitative","scale":{"domain":[0,1]},"axis":null},"y":{"datum":0.5,"type":"quantitative","scale":{"domain":[0,1]},"axis":null}}},
 {"mark":{"type":"text","text":"CFSE dilution","align":"left","fontSize":14,"fontWeight":"bold","color":"#222"},"encoding":{"x":{"datum":0.812,"type":"quantitative","scale":{"domain":[0,1]},"axis":null},"y":{"datum":0.5,"type":"quantitative","scale":{"domain":[0,1]},"axis":null}}}
]}
],"spacing":8
}
